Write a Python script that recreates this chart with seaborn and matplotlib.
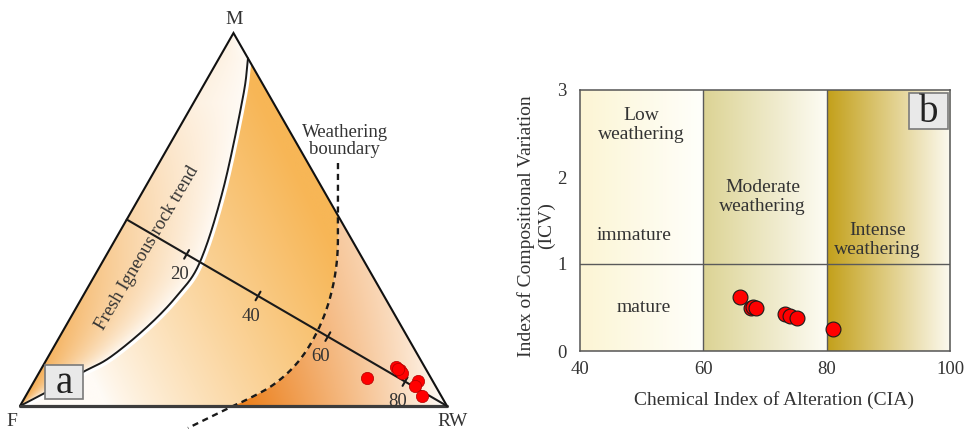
import numpy as np
import pandas as pd
import matplotlib
matplotlib.use("Agg")
import matplotlib.pyplot as plt
import matplotlib.transforms as mtransforms
import seaborn as sns
from matplotlib.patches import Polygon, Rectangle
from matplotlib.colors import to_rgb

# ---------------------------------------------------------------
# Sample data
# ---------------------------------------------------------------
# M-F-RW ternary compositions (%)
tern_M = [7.5, 10.5, 9.7, 8.9, 6.7, 5.4, 2.7, 10.0]
tern_F = [15.0, 6.7, 6.2, 6.1, 3.4, 4.8, 4.5, 6.5]
tern_RW = [77.5, 82.8, 84.1, 85.0, 89.9, 89.8, 92.8, 83.5]

# CIA vs ICV
cia = [66.0, 67.7, 68.0, 68.6, 73.3, 74.0, 75.2, 81.1]
icv = [0.62, 0.49, 0.51, 0.49, 0.43, 0.40, 0.38, 0.25]

# W-index scale along the weathering trend line
w_ticks = [20, 40, 60, 80]
w_tick_frac = [0.187, 0.41, 0.628, 0.869]

# CIA weathering classes
cia_bounds = [40, 60, 80, 100]
icv_split = 1.0

# ---------------------------------------------------------------
sns.set_theme(style="white")
plt.rcParams["font.family"] = ["Liberation Serif", "DejaVu Serif"]
TXT = "#333333"

SQ3 = np.sqrt(3.0)


def tern_xy(m, f, rw):
    m, f, rw = (np.asarray(v, float) for v in (m, f, rw))
    tot = m + f + rw
    x = rw / tot + 0.5 * m / tot
    y = (SQ3 / 2.0) * m / tot
    return x, y


def smooth(pts, n=30):
    """Catmull-Rom spline through the given points."""
    pts = np.asarray(pts, float)
    P = np.vstack([2 * pts[0] - pts[1], pts, 2 * pts[-1] - pts[-2]])
    out = []
    t = np.linspace(0, 1, n, endpoint=False)[:, None]
    for i in range(1, len(P) - 2):
        p0, p1, p2, p3 = P[i - 1], P[i], P[i + 1], P[i + 2]
        out.append(0.5 * ((2 * p1) + (-p0 + p2) * t
                          + (2 * p0 - 5 * p1 + 4 * p2 - p3) * t ** 2
                          + (-p0 + 3 * p1 - 3 * p2 + p3) * t ** 3))
    out.append(pts[-1:])
    return np.vstack(out)


fig = plt.figure(figsize=(9.67, 4.29), dpi=100)
fig.patch.set_facecolor("white")

# ===============================================================
# (a) M-F-RW ternary diagram
# ===============================================================
ax_a = fig.add_axes([0, 0, 0.5, 1])
ax_a.set_xlim(-0.0468, 1.0855)
ax_a.set_ylim(-0.0534, 0.9427)
ax_a.axis("off")

F_pt = np.array([0.0, 0.0])
RW_pt = np.array([1.0, 0.0])
M_pt = np.array([0.5, SQ3 / 2])

# fresh igneous rock trend (F -> M-RW edge)
igneous = smooth([(0.0, 0.0), (0.0585, 0.0302), (0.1475, 0.0789), (0.2108, 0.1130),
                  (0.2974, 0.1834), (0.3677, 0.2560), (0.4215, 0.3343),
                  (0.4754, 0.5015), (0.5222, 0.7174), (0.5340, 0.8072)])
# weathering boundary (M-RW edge -> below the F-RW base)
boundary = smooth([(0.7447, 0.5642), (0.7447, 0.4420), (0.7424, 0.3390),
                   (0.7260, 0.2508), (0.6956, 0.1718), (0.6511, 0.1022),
                   (0.5925, 0.0488), (0.5199, 0.0093), (0.4988, 0.0),
                   (0.3934, -0.0511)])
b_in = boundary[(boundary[:, 1] <= 0.4421) & (boundary[:, 1] >= 0)]
b_in = np.vstack([[[0.7447, 0.4420]], b_in, [[0.4988, 0.0]]])

# region polygons
left_poly = np.vstack([F_pt, M_pt, igneous[::-1]])
mid_poly = np.vstack([igneous, b_in, F_pt])
right_poly = np.vstack([b_in, RW_pt])

# gradient fields
nx, ny = 700, 640
gx = np.linspace(-0.02, 1.02, nx)
gy = np.linspace(-0.02, 0.90, ny)
X, Y = np.meshgrid(gx, gy)
white = np.array(to_rgb("#fffbf6"))


def blend(c, a):
    c = np.array(to_rgb(c))
    a = np.clip(a, 0, 1)[..., None]
    return white * (1 - a) + c * a


# left: orange along the F-M edge fading towards the igneous trend
xl = Y / SQ3
xc = np.interp(Y, igneous[:, 1], igneous[:, 0], right=np.nan)
xc = np.where(np.isnan(xc), 1 - Y / SQ3, xc)
tl = np.clip((X - xl) / np.maximum(xc - xl, 1e-3), 0, 1)
a_left = (1 - tl) ** 0.8 * np.clip(1 - Y / 0.80, 0.12, 1)
img_left = blend("#f3a748", a_left)

# middle: pale at lower left, orange towards the upper right
a_mid = np.clip(0.30 + (X - 0.42) * 1.4 + Y * 0.7, 0, 1) ** 0.85
img_mid = blend("#f7b656", a_mid)

# right: deep orange next to the boundary fading towards RW
a_right = np.clip((0.985 - X) / 0.45, 0, 1) ** 0.85 * (1 - 0.35 * Y / 0.44)
img_right = blend("#ec8220", a_right)

ext = [gx[0], gx[-1], gy[0], gy[-1]]
for img, poly in ((img_left, left_poly), (img_mid, mid_poly), (img_right, right_poly)):
    patch = Polygon(poly, closed=True, facecolor="none", edgecolor="none")
    ax_a.add_patch(patch)
    im = ax_a.imshow(img, extent=ext, origin="lower", interpolation="bilinear",
                     aspect="auto", zorder=0)
    im.set_clip_path(patch)

# igneous trend line: white band on its lower side, black line on top
halo = mtransforms.offset_copy(ax_a.transData, fig=fig, x=1.3, y=-1.6, units="dots")
ax_a.plot(igneous[:, 0], igneous[:, 1], color="white", lw=3.2, zorder=2,
          transform=halo)
ax_a.plot(igneous[:, 0], igneous[:, 1], color="#1a1a1a", lw=1.4, zorder=3)

# weathering boundary dashed line
ax_a.plot(boundary[:, 0], boundary[:, 1], color="#1a1a1a", lw=1.7,
          ls=(0, (2.6, 2.0)), zorder=3, clip_on=False)

# triangle outline
ax_a.plot([F_pt[0], M_pt[0], RW_pt[0]], [F_pt[1], M_pt[1], RW_pt[1]],
          color="#111111", lw=1.5, zorder=4, solid_joinstyle="miter")
ax_a.plot([F_pt[0], RW_pt[0]], [0, 0], color="#3c3c3c", lw=2.3, zorder=4)

# W-index trend line with ticks
w_start = (F_pt + M_pt) / 2
w_dir = RW_pt - w_start
ax_a.plot([w_start[0], RW_pt[0]], [w_start[1], RW_pt[1]], color="#1a1a1a",
          lw=1.5, zorder=4)
unit = w_dir / np.linalg.norm(w_dir)
perp = np.array([-unit[1], unit[0]])
for val, fr in zip(w_ticks, w_tick_frac):
    p = w_start + fr * w_dir
    q0, q1 = p - 0.0115 * perp, p + 0.0115 * perp
    ax_a.plot([q0[0], q1[0]], [q0[1], q1[1]], color="#1a1a1a", lw=1.5, zorder=4)
    ax_a.annotate(str(val), xy=p, xytext=(-5, -14.5), textcoords="offset points",
                  ha="center", va="center", fontsize=13.5, color=TXT, zorder=5)

# samples
sx, sy = tern_xy(tern_M, tern_F, tern_RW)
sns.scatterplot(x=sx, y=sy, ax=ax_a, s=78, color="#ff0000",
                edgecolor="#b00000", linewidth=0.5, zorder=6, legend=False)

# labels
ax_a.text(0.501, 0.897, "M", ha="center", va="center", fontsize=14, color=TXT)
ax_a.text(-0.019, -0.035, "F", ha="center", va="center", fontsize=14, color=TXT)
ax_a.text(1.012, -0.035, "RW", ha="center", va="center", fontsize=14, color=TXT)
ax_a.text(0.2974, 0.367, "Fresh Igneous rock trend", rotation=59.5,
          rotation_mode="anchor", ha="center", va="center", fontsize=13.5,
          color=TXT, zorder=5)
ax_a.text(0.761, 0.615, "Weathering\nboundary", ha="center", va="center",
          fontsize=13.5, color=TXT, linespacing=1.05, zorder=5)

ax_a.add_patch(Rectangle((0.0585, 0.0163), 0.089, 0.079, facecolor="#e9e9e9",
                         edgecolor="#7a7a7a", lw=1.2, zorder=7))
ax_a.text(0.103, 0.052, "a", ha="center", va="center", fontsize=28,
          color="#222222", zorder=8)

# ===============================================================
# (b) CIA vs ICV
# ===============================================================
ax_b = fig.add_axes([580 / 967, 78 / 429, 370 / 967, 261 / 429])
band_cols = [("#fcf5d4", "#fffffb"), ("#dcd394", "#fdfcf4"), ("#c3a01a", "#fcfaf0")]
for (x0, x1), (c0, c1) in zip(zip(cia_bounds[:-1], cia_bounds[1:]), band_cols):
    t = np.linspace(0, 1, 256)[None, :, None]
    grad = np.array(to_rgb(c0)) * (1 - t) + np.array(to_rgb(c1)) * t
    ax_b.imshow(grad, extent=[x0, x1, 0, 3], aspect="auto", origin="lower",
                interpolation="bilinear", zorder=0)

for xv in cia_bounds[1:-1]:
    ax_b.axvline(xv, color="#5a5a5a", lw=1.0, zorder=1)
ax_b.axhline(icv_split, color="#5a5a5a", lw=1.0, zorder=1)

df_b = pd.DataFrame({"CIA": cia, "ICV": icv})
sns.scatterplot(data=df_b, x="CIA", y="ICV", ax=ax_b, s=115, color="#ff0000",
                edgecolor="#1a1a1a", linewidth=0.8, zorder=5, legend=False)

ax_b.set_xlim(40, 100)
ax_b.set_ylim(0, 3)
ax_b.set_xticks([40, 60, 80, 100])
ax_b.set_yticks([0, 1, 2, 3])
ax_b.set_xlabel("")
ax_b.set_ylabel("")
ax_b.tick_params(axis="both", direction="out", length=4.5, width=1.0,
                 color="#444444", labelsize=13.5, labelcolor=TXT)
ax_b.tick_params(axis="y", pad=5)
ax_b.tick_params(axis="x", pad=2.5)
for sp in ax_b.spines.values():
    sp.set_color("#555555")
    sp.set_linewidth(1.1)
    sp.set_visible(True)
    sp.set_zorder(6)

kw = dict(ha="center", va="center", fontsize=14, color=TXT, linespacing=1.15)
ax_b.text(50.0, 2.6, "Low\nweathering", **kw)
ax_b.text(69.6, 1.77, "Moderate\nweathering", **kw)
ax_b.text(88.2, 1.28, "Intense\nweathering", **kw)
ax_b.text(48.7, 1.33, "immature", **kw)
ax_b.text(50.4, 0.50, "mature", **kw)

ax_b.add_patch(Rectangle((0.889, 0.851), 0.106, 0.138, transform=ax_b.transAxes,
                         facecolor="#e9e9e9", edgecolor="#7a7a7a", lw=1.2, zorder=7))
ax_b.text(0.942, 0.915, "b", transform=ax_b.transAxes, ha="center", va="center",
          fontsize=28, color="#222222", zorder=8)

fig.text(774 / 967, 1 - 400 / 429, "Chemical Index of Alteration (CIA)",
         ha="center", va="center", fontsize=14, color=TXT)
fig.text(536 / 967, 1 - 226 / 429, "Index of Compositional Variation\n(ICV)",
         ha="center", va="center", rotation=90, fontsize=14, color=TXT,
         multialignment="center", linespacing=1.2)

fig.savefig("out.png", dpi=100, facecolor="white")
